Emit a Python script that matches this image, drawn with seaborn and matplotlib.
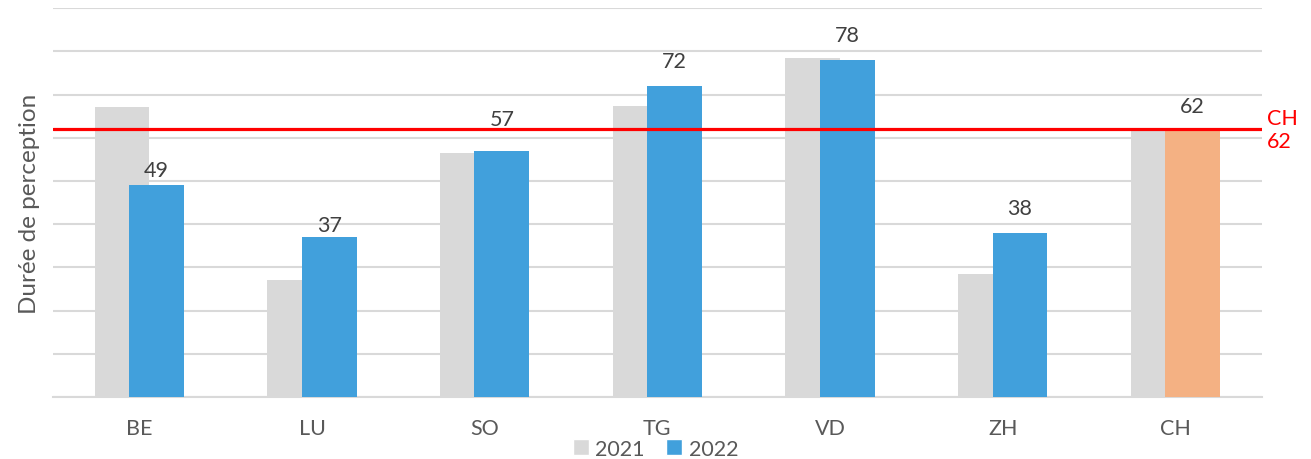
import matplotlib
matplotlib.use("Agg")
import matplotlib.pyplot as plt
import seaborn as sns
from matplotlib.patches import Patch

# ================= DATA =================
CANTONS = ["BE", "LU", "SO", "TG", "VD", "ZH", "CH"]
VALUES_2021 = [67.2, 27.2, 56.5, 67.4, 78.4, 28.5, 61.7]
VALUES_2022 = [49, 37, 57, 72, 78, 38, 62]
CH_REF = 62
YEARS = ["2021", "2022"]

# ================= STYLE =================
GREY = "#D9D9D9"
BLUE = "#41A0DC"
ORANGE = "#F4B183"
RED = "#FF0000"
TXT = "#404040"
BAR_W = 0.318
SHIFT = 0.1
FS = 15.5
LABEL_GAP = [11, 9, 23, 18, 18, 18, 17]   # points above bar, as placed in the original

sns.set_theme(style="whitegrid")
plt.rcParams["font.family"] = ["Lato", "DejaVu Sans"]

fig = plt.figure(figsize=(13.11, 4.6), dpi=100)
ax = fig.add_axes([0.0404, 0.1348, 0.922, 0.845])

# 2021 bars (behind)
sns.barplot(x=CANTONS, y=VALUES_2021, color=GREY, width=BAR_W,
            saturation=1, ax=ax, zorder=2)
n_prev = len(ax.patches)
for p in ax.patches:
    p.set_x(p.get_x() - SHIFT)
    p.set_edgecolor("none")

# 2022 bars (front), CH highlighted
colors_2022 = [BLUE] * (len(CANTONS) - 1) + [ORANGE]
sns.barplot(x=CANTONS, y=VALUES_2022, hue=CANTONS, palette=colors_2022,
            width=BAR_W, saturation=1, legend=False, ax=ax, zorder=3)
bars_2022 = ax.patches[n_prev:]
for p in bars_2022:
    p.set_x(p.get_x() + SHIFT)
    p.set_edgecolor("none")

# value labels for 2022
for p, v, gap in zip(bars_2022, VALUES_2022, LABEL_GAP):
    ax.annotate(f"{v:.0f}", (p.get_x() + p.get_width() / 2, p.get_height()),
                xytext=(0, gap), textcoords="offset points",
                ha="center", va="center", fontsize=FS, color=TXT)

# CH reference line
ax.axhline(CH_REF, color=RED, lw=2.3, zorder=4)
ax.annotate(f"CH\n{CH_REF}", (1, CH_REF), xycoords=("axes fraction", "data"),
            xytext=(4, 0), textcoords="offset points", ha="left", va="center",
            color=RED, fontsize=FS, linespacing=1.2)

ax.set_ylim(0, 90)
ax.set_xlim(-0.5, len(CANTONS) - 0.5)
ax.set_yticks(range(0, 91, 10))
ax.set_yticklabels([])
ax.tick_params(axis="y", length=0)
ax.tick_params(axis="x", length=0, labelsize=FS, labelcolor="#595959", pad=15)
ax.grid(axis="y", color=GREY, lw=1.5)
ax.grid(axis="x", visible=False)
for s in ["top", "right", "left"]:
    ax.spines[s].set_visible(False)
ax.spines["bottom"].set_color(GREY)
ax.spines["bottom"].set_linewidth(1.5)
ax.set_ylabel("Durée de perception", fontsize=17.5, color="#595959", labelpad=6)
ax.set_xlabel("")

handles = [Patch(facecolor=GREY, label=YEARS[0]), Patch(facecolor=BLUE, label=YEARS[1])]
fig.legend(handles=handles, loc="center", bbox_to_anchor=(0.5, 0.022), ncol=2,
           frameon=False, fontsize=FS, handlelength=0.75, handleheight=0.75,
           handletextpad=0.3, columnspacing=1.0, labelcolor="#595959",
           borderpad=0.1)

fig.savefig("out.png", dpi=100)
